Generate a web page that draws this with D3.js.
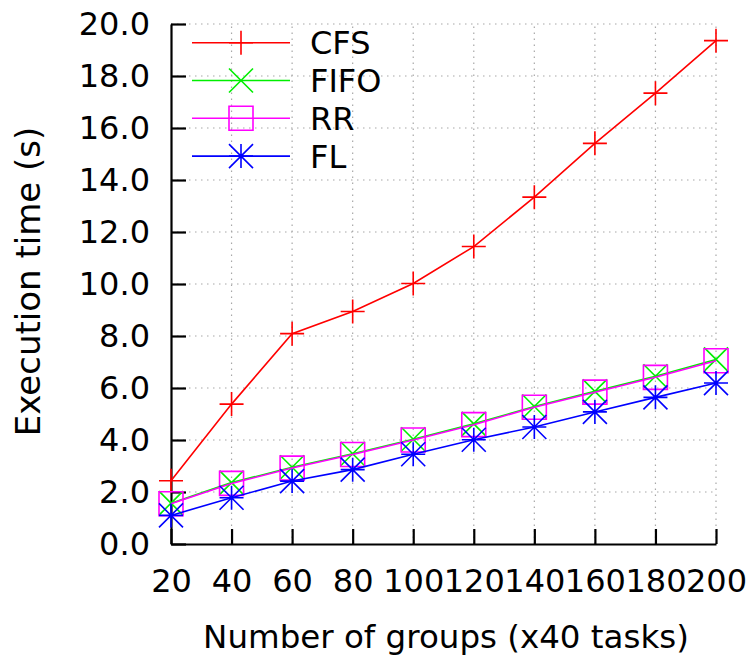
<!DOCTYPE html>
<html>
<head>
<meta charset="utf-8">
<script src="https://cdn.jsdelivr.net/npm/d3@7"></script>
<style>
  body { margin: 0; background: #fff; }
  svg { display: block; }
  text { font-family: "DejaVu Sans", sans-serif; fill: #000; }
</style>
</head>
<body>
<svg id="chart" width="748" height="656"></svg>
<script>
// Number of groups (each group = 40 tasks)
const groups = [20, 40, 60, 80, 100, 120, 140, 160, 180, 200];

// Execution time in seconds per scheduler
const cfsTimes  = [2.43, 5.38, 8.09, 8.94, 10.02, 11.44, 13.34, 15.41, 17.34, 19.36];
const fifoTimes = [1.57, 2.36, 2.95, 3.47, 4.03, 4.62, 5.29, 5.87, 6.45, 7.10];
const rrTimes   = [1.55, 2.33, 2.92, 3.44, 4.00, 4.59, 5.26, 5.84, 6.41, 7.05];
const flTimes   = [1.10, 1.78, 2.42, 2.86, 3.45, 4.01, 4.50, 5.08, 5.64, 6.19];

const seriesNames   = ["CFS", "FIFO", "RR", "FL"];
const seriesColors  = ["#ff0000", "#00ee00", "#ff00ff", "#0000ff"];
const seriesMarkers = ["plus", "cross", "box", "star"];

const yTickValues = [0, 2, 4, 6, 8, 10, 12, 14, 16, 18, 20];
const xTickValues = groups;

const seriesValues = [cfsTimes, fifoTimes, rrTimes, flTimes];

const FONT = 32;
const svg = d3.select("#chart");

const x = d3.scaleLinear().domain([20, 200]).range([171, 716]);
const y = d3.scaleLinear().domain([0, 20]).range([544, 24]);

// dotted grid
const grid = svg.append("g").attr("stroke", "#a8a8a8").attr("stroke-width", 1.2)
  .attr("stroke-dasharray", "1.5,4.5").attr("fill", "none");
grid.selectAll("line.gx").data(xTickValues.slice(1)).join("line")
  .attr("x1", d => x(d)).attr("x2", d => x(d))
  .attr("y1", y(0)).attr("y2", y(20));
grid.selectAll("line.gy").data(yTickValues.slice(1)).join("line")
  .attr("x1", x(20)).attr("x2", x(200))
  .attr("y1", d => y(d)).attr("y2", d => y(d));

// axes, ticks pointing inward
const yAxis = d3.axisLeft(y).tickValues(yTickValues).tickFormat(d3.format(".1f"))
  .tickSizeInner(-15).tickSizeOuter(0).tickPadding(21);
const xAxis = d3.axisBottom(x).tickValues(xTickValues).tickFormat(d3.format("d"))
  .tickSizeInner(-15).tickSizeOuter(0).tickPadding(25);

function styleAxis(g) {
  g.attr("font-size", FONT).attr("font-family", "DejaVu Sans, sans-serif");
  g.selectAll("path.domain").attr("stroke", "#000").attr("stroke-width", 2.2);
  g.selectAll(".tick line").attr("stroke", "#000").attr("stroke-width", 2.2);
  g.selectAll(".tick text").attr("fill", "#000");
}
svg.append("g").attr("transform", `translate(${x(20)},0)`).call(yAxis).call(styleAxis);
svg.append("g").attr("transform", `translate(0,${y(0)})`).call(xAxis).call(styleAxis);

// axis titles
svg.append("text")
  .attr("transform", "translate(40,281.5) rotate(-90)")
  .attr("text-anchor", "middle").attr("font-size", 34)
  .text("Execution time (s)");
svg.append("text")
  .attr("x", 446).attr("y", 648)
  .attr("text-anchor", "middle").attr("font-size", 32.5)
  .text("Number of groups (x40 tasks)");

// point markers
const H = 12;
function markerPath(kind, cx, cy) {
  const p = d3.path();
  if (kind === "plus" || kind === "star") {
    p.moveTo(cx - H, cy); p.lineTo(cx + H, cy);
    p.moveTo(cx, cy - H); p.lineTo(cx, cy + H);
  }
  if (kind === "cross" || kind === "star") {
    p.moveTo(cx - H, cy - H); p.lineTo(cx + H, cy + H);
    p.moveTo(cx - H, cy + H); p.lineTo(cx + H, cy - H);
  }
  if (kind === "box") {
    p.rect(cx - H, cy - H, 2 * H, 2 * H);
  }
  return p.toString();
}

const line = d3.line().x((d, i) => x(groups[i])).y(d => y(d));

seriesValues.forEach((vals, si) => {
  const g = svg.append("g").attr("stroke", seriesColors[si]).attr("fill", "none")
    .attr("stroke-width", 1.6);
  g.append("path").attr("d", line(vals));
  g.selectAll("path.m").data(vals).join("path").attr("class", "m")
    .attr("d", (d, i) => markerPath(seriesMarkers[si], x(groups[i]), y(d)));
});

// legend
const legend = svg.append("g");
seriesNames.forEach((name, si) => {
  const ly = 42.7 + si * 37.8;
  const g = legend.append("g").attr("stroke", seriesColors[si]).attr("fill", "none")
    .attr("stroke-width", 1.6);
  g.append("line").attr("x1", 192).attr("x2", 290).attr("y1", ly).attr("y2", ly);
  g.append("path").attr("d", markerPath(seriesMarkers[si], 241, ly));
  legend.append("text").attr("x", 310).attr("y", ly).attr("dy", "0.36em")
    .attr("font-size", FONT).text(name);
});
</script>
</body>
</html>
